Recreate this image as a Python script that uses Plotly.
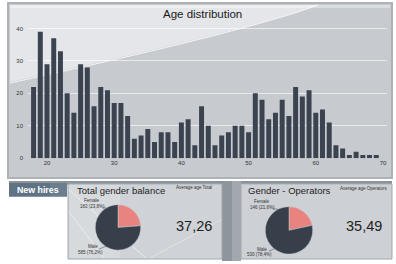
import plotly.graph_objects as go

# ---------------- data ----------------
ages = list(range(18, 70))
counts = [22, 39, 29, 37, 33, 20, 14, 29, 28, 16,
          22, 21, 17, 17, 13, 6, 7, 9, 5, 8,
          8, 5, 11, 12, 4, 16, 10, 4, 7, 8,
          10, 10, 8, 20, 18, 12, 14, 18, 13, 22,
          19, 21, 14, 15, 11, 4, 3, 1, 2, 1,
          1, 1]
x_ticks = [20, 30, 40, 50, 60, 70]
y_ticks = [0, 10, 20, 30, 40]

gender_labels = ["Female", "Male"]
total_values = [183, 585]
operators_values = [146, 530]
total_text = ["183 (23,8%)", "585 (76,2%)"]
operators_text = ["146 (21,6%)", "530 (78,4%)"]
avg_age_total = "37,26"
avg_age_operators = "35,49"

# ---------------- helpers (pixel -> paper) ----------------
W, H = 396, 264
FONT = "Liberation Sans, Arial, sans-serif"


def X(p):
    return p / W


def Y(p):
    return 1 - p / H


def rect(x0, y0, x1, y1, fill, line=None, lw=0, opacity=1):
    return dict(type="rect", xref="paper", yref="paper",
                x0=X(x0), x1=X(x1), y0=Y(y1), y1=Y(y0),
                fillcolor=fill, opacity=opacity,
                line=dict(color=line or fill, width=lw), layer="below")


def seg(x0, y0, x1, y1, color, w=1, layer="below"):
    return dict(type="line", xref="paper", yref="paper",
                x0=X(x0), y0=Y(y0), x1=X(x1), y1=Y(y1),
                line=dict(color=color, width=w), layer=layer)


fig = go.Figure()

# bar chart
fig.add_trace(go.Bar(x=ages, y=counts, marker=dict(color="#3b4350", line=dict(width=0)),
                     showlegend=False, hovertemplate="Age %{x}: %{y}<extra></extra>"))

PINK = "#e8837f"
DARK = "#363f4a"

fig.add_trace(go.Pie(values=total_values, labels=gender_labels, sort=False,
                     direction="counterclockwise", rotation=0, textinfo="none",
                     marker=dict(colors=[PINK, DARK], line=dict(color="#c4c8cc", width=0.5)),
                     domain=dict(x=[X(95), X(141)], y=[Y(253), Y(207)]), showlegend=False))
fig.add_trace(go.Pie(values=operators_values, labels=gender_labels, sort=False,
                     direction="counterclockwise", rotation=0, textinfo="none",
                     marker=dict(colors=[PINK, DARK], line=dict(color="#c4c8cc", width=0.5)),
                     domain=dict(x=[X(265), X(313)], y=[Y(257), Y(209)]), showlegend=False))

shapes = []
# main panel
shapes.append(rect(8, 3, 392, 180, "#c7cbd0", "#aeb2b7", 2))
# lighter swoosh area
path = (f"M {X(10)},{Y(5)} L {X(10)},{Y(83)} Q {X(250)},{Y(30)} {X(318)},{Y(5)} Z")
shapes.append(dict(type="path", xref="paper", yref="paper", path=path,
                   fillcolor="#e4e6e9", line=dict(width=0), layer="below"))
path2 = (f"M {X(10)},{Y(84)} Q {X(250)},{Y(31)} {X(318)},{Y(5)}")
shapes.append(dict(type="path", xref="paper", yref="paper", path=path2,
                   line=dict(color="rgba(255,255,255,0.8)", width=1), layer="below"))
shapes.append(rect(10, 5, 390, 8, "rgba(255,255,255,0.35)"))

# bottom section
shapes.append(rect(9, 183, 392, 187, "#8b939b"))
shapes.append(rect(9, 185, 67, 199, "#5f7385"))
shapes.append(rect(50, 185, 67, 199, "rgba(255,255,255,0.08)"))
shapes.append(rect(222, 183, 241, 264, "#8e959c"))
shapes.append(rect(232, 183, 241, 264, "rgba(255,255,255,0.18)"))
shapes.append(rect(68, 186, 222, 262, "#cfd2d6", "#a3a8ad", 1))
shapes.append(rect(69, 187, 120, 261, "rgba(255,255,255,0.18)"))
shapes.append(rect(241, 186, 392, 262, "#cdd0d4", "#a3a8ad", 1))
shapes.append(seg(69, 192, 146, 261, "rgba(255,255,255,0.55)", 1))
shapes.append(seg(69, 214, 104, 261, "rgba(255,255,255,0.45)", 1))
shapes.append(seg(150, 261, 222, 222, "rgba(255,255,255,0.35)", 1))

# leader lines for pie labels
shapes.append(seg(103, 210, 109, 211, "#555", 0.6, "above"))
shapes.append(seg(99, 252, 106, 249, "#555", 0.6, "above"))
shapes.append(seg(273, 211, 279, 212, "#555", 0.6, "above"))
shapes.append(seg(269, 254, 276, 251, "#555", 0.6, "above"))

annotations = []


def txt(x, y, s, size, color="#222", bold=False, xanchor="center"):
    annotations.append(dict(xref="paper", yref="paper", x=X(x), y=Y(y), text=(f"<b>{s}</b>" if bold else s),
                            showarrow=False, xanchor=xanchor, yanchor="middle",
                            font=dict(family=FONT, size=size, color=color)))


txt(202.5, 14, "Age distribution", 11.5, "#1a1a1a")
txt(38, 192, "New hires", 8.8, "#ffffff", bold=True)
txt(75, 193, "Total gender balance", 9.5, "#1e1e1e", xanchor="left")
txt(194, 190, "Average age Total", 4.5, "#333")
txt(194, 229, avg_age_total, 14.5, "#1e1e1e")
txt(246, 193, "Gender - Operators", 9.5, "#1e1e1e", xanchor="left")
txt(363, 191, "Average age Operators", 4.5, "#333")
txt(363.5, 229, avg_age_operators, 14.5, "#1e1e1e")

# pie labels
txt(92, 203, gender_labels[0], 4.5, "#333")
txt(92, 209, total_text[0], 4.5, "#333")
txt(93, 249, gender_labels[1], 4.5, "#333")
txt(90, 255, total_text[1], 4.5, "#333")
txt(262, 204, gender_labels[0], 4.5, "#333")
txt(262, 210, operators_text[0], 4.5, "#333")
txt(262, 252, gender_labels[1], 4.5, "#333")
txt(259, 257, operators_text[1], 4.5, "#333")

fig.update_layout(
    width=W, height=H, autosize=False,
    margin=dict(l=0, r=0, t=0, b=0, pad=0),
    paper_bgcolor="#ffffff", plot_bgcolor="rgba(0,0,0,0)",
    bargap=0.26, shapes=shapes, annotations=annotations,
    font=dict(family=FONT),
    xaxis=dict(domain=[X(28), X(387)], range=[17.17, 70.6], tickvals=x_ticks,
               tickfont=dict(size=6, color="#333"), showgrid=False, zeroline=False,
               showline=False, ticks="", fixedrange=True),
    yaxis=dict(domain=[Y(160), Y(22)], range=[0, 42.1], tickvals=y_ticks,
               tickfont=dict(size=6, color="#333"), showgrid=True,
               gridcolor="rgba(255,255,255,0.6)", gridwidth=1, zeroline=False,
               showline=False, ticks="", ticklabelstandoff=4, fixedrange=True),
)

fig.write_html("out.html", config={"displayModeBar": False},
               post_script="document.body.style.margin='0';document.body.style.overflow='hidden';")
